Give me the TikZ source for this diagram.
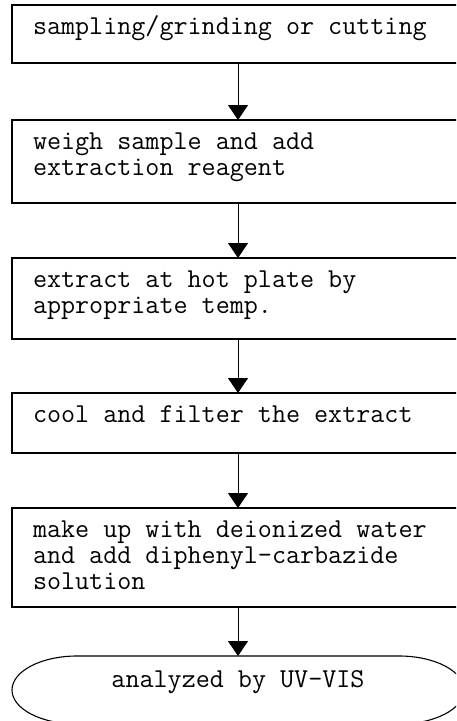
\documentclass[tikz,border=0pt]{standalone}
\usepackage{fontspec}
\usetikzlibrary{arrows.meta,calc}
\newcommand{\boxtxt}[2]{\parbox[t][#1][t]{410pt}{\rule{0pt}{29pt}#2}}
\tikzset{
  stepbox/.style={draw, line width=1.1pt, anchor=north, inner xsep=21pt, inner ysep=0pt, outer sep=0pt,
    font=\ttfamily\fontsize{27.3pt}{26pt}\selectfont, align=left},
  flowarrow/.style={line width=0.9pt, -{Triangle[width=20pt,length=15pt]}},
  endtxt/.style={font=\ttfamily\fontsize{27.3pt}{26pt}\selectfont, anchor=base, inner sep=0pt}
}
\begin{document}
\begin{tikzpicture}[x=1pt,y=-1pt]
\useasboundingbox (0,0) rectangle (456,721);
\clip (0,0) rectangle (456,721);
\fill[white] (0,0) rectangle (456,721);
\node[stepbox] (b1) at (238,5) {\boxtxt{58pt}{sampling/grinding or cutting}};
\node[stepbox] (b2) at (238,120) {\boxtxt{83pt}{weigh sample and add\\extraction reagent}};
\node[stepbox] (b3) at (238,258) {\boxtxt{81pt}{extract at hot plate by\\appropriate temp.}};
\node[stepbox] (b4) at (238,393) {\boxtxt{60pt}{cool and filter the extract}};
\node[stepbox] (b5) at (238,508) {\boxtxt{99pt}{make up with deionized water\\and add diphenyl-carbazide\\solution}};
\coordinate (endc) at (238,690);
\coordinate (endtop) at (238,656);
\node[endtxt] (end) at (238,687) {analyzed by UV-VIS};
\draw[line width=1.1pt] ($(endtop)+(161,0)$) arc[start angle=90, end angle=-90, x radius=65pt, y radius=34pt]
  -- ++(-322pt,0pt) arc[start angle=270, end angle=90, x radius=65pt, y radius=34pt] -- cycle;
\draw[flowarrow] (b1.south) -- (b2.north);
\draw[flowarrow] (b2.south) -- (b3.north);
\draw[flowarrow] (b3.south) -- (b4.north);
\draw[flowarrow] (b4.south) -- (b5.north);
\draw[flowarrow] (b5.south) -- (endtop);
\end{tikzpicture}
\end{document}
